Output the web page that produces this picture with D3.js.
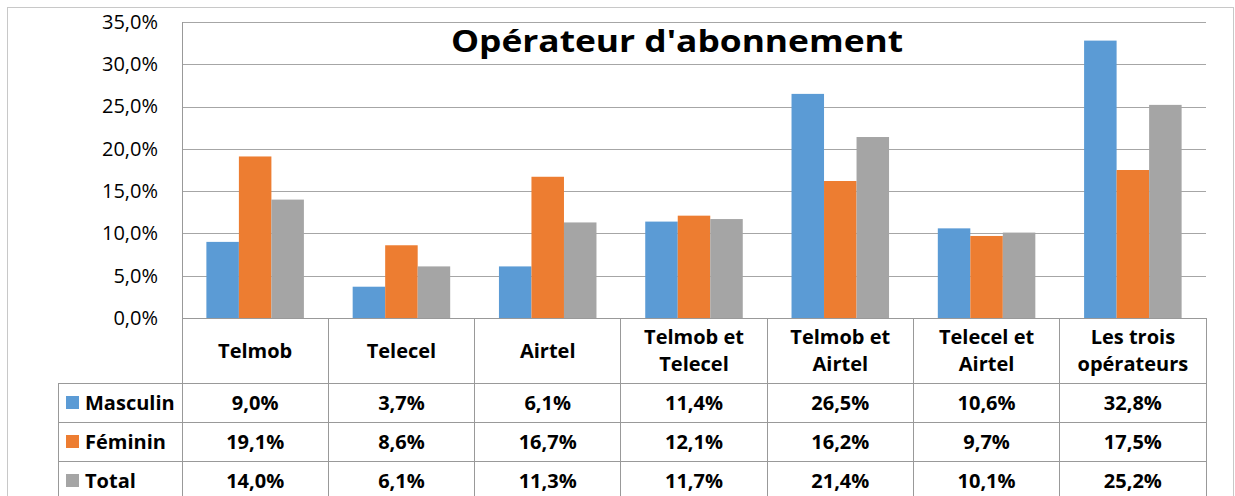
<!DOCTYPE html>
<html>
<head>
<meta charset="utf-8">
<script src="https://cdn.jsdelivr.net/npm/d3@7"></script>
<style>
  html, body { margin: 0; padding: 0; background: #fff; }
  svg { display: block; }
  text { font-family: "Open Sans", sans-serif; fill: #000; }
</style>
</head>
<body>
<svg id="chart" width="1235" height="496"></svg>
<script>
// ---- data ----
const title = "Opérateur d'abonnement";
const categories = ["Telmob", "Telecel", "Airtel", "Telmob et\nTelecel", "Telmob et\nAirtel", "Telecel et\nAirtel", "Les trois\nopérateurs"];
const seriesNames = ["Masculin", "Féminin", "Total"];
const masculin = [0.090, 0.037, 0.061, 0.114, 0.265, 0.106, 0.328];
const feminin  = [0.191, 0.086, 0.167, 0.121, 0.162, 0.097, 0.175];
const total    = [0.140, 0.061, 0.113, 0.117, 0.214, 0.101, 0.252];
const yTicks = [0, 0.05, 0.10, 0.15, 0.20, 0.25, 0.30, 0.35];
const colors = ["#5b9bd5", "#ed7d31", "#a5a5a5"];

const seriesValues = [masculin, feminin, total];

// ---- layout ----
const W = 1235, H = 496;
const plot = { left: 182, right: 1206, top: 22, bottom: 318 };
const tableLeft = 58;
const headerBottom = 383;
const rowH = 39;

const svg = d3.select("#chart");

// outer border
svg.append("rect")
  .attr("x", 7.5).attr("y", 7.5)
  .attr("width", 1226).attr("height", H)
  .attr("fill", "#fff").attr("stroke", "#c8c8c8").attr("stroke-width", 1);

const locale = d3.formatLocale({ decimal: ",", thousands: " ", grouping: [3], currency: ["", "€"] });
const pct = locale.format(".1%");

const x0 = d3.scaleBand().domain(categories).range([plot.left, plot.right]).paddingInner(0).paddingOuter(0);
const x1 = d3.scaleBand().domain(seriesNames).range([0, x0.bandwidth()]).paddingInner(0).paddingOuter(0.75);
const y = d3.scaleLinear().domain([0, 0.35]).range([plot.bottom, plot.top]);

// gridlines
const grid = svg.append("g")
  .attr("transform", `translate(${plot.left},0)`)
  .call(d3.axisLeft(y).tickValues(yTicks).tickSize(-(plot.right - plot.left)).tickFormat(""));
grid.select(".domain").remove();
grid.selectAll("line").attr("stroke", "#a6a6a6").attr("stroke-width", 1)
  .attr("shape-rendering", "crispEdges");

// y axis labels
const yAxis = svg.append("g")
  .attr("transform", `translate(${158},0)`)
  .call(d3.axisLeft(y).tickValues(yTicks).tickSize(0).tickPadding(0).tickFormat(pct));
yAxis.select(".domain").remove();
yAxis.selectAll("text")
  .style("font-family", "'Open Sans', sans-serif")
  .style("font-size", "20px").attr("fill", "#000");

// title
svg.append("text")
  .attr("transform", `translate(677,52) scale(1.14,1)`)
  .attr("text-anchor", "middle")
  .style("font-size", "31px").style("font-weight", "bold")
  .text(title);

// bars
const groups = svg.append("g").selectAll("g")
  .data(categories)
  .join("g")
  .attr("transform", d => `translate(${x0(d)},0)`);

groups.selectAll("rect")
  .data((d, i) => seriesNames.map((s, k) => ({ s, k, v: seriesValues[k][i] })))
  .join("rect")
  .attr("x", d => x1(d.s))
  .attr("width", x1.bandwidth())
  .attr("y", d => y(d.v))
  .attr("height", d => y(0) - y(d.v))
  .attr("fill", d => colors[d.k]);

// ---- data table ----
const lineColor = "#999";
const tl = svg.append("g").attr("shape-rendering", "crispEdges");

// axis line at 0 and left value axis line
tl.append("line").attr("x1", plot.left).attr("x2", plot.right)
  .attr("y1", y(0)).attr("y2", y(0)).attr("stroke", lineColor);
tl.append("line").attr("x1", plot.left).attr("x2", plot.left)
  .attr("y1", y(0.35)).attr("y2", H).attr("stroke", lineColor);

// vertical column separators
const colEdges = categories.map(c => x0(c) + x0.bandwidth());
tl.selectAll("line.col").data(colEdges).join("line").attr("class", "col")
  .attr("x1", d => d).attr("x2", d => d)
  .attr("y1", plot.bottom).attr("y2", H).attr("stroke", lineColor);

// left border of legend column
tl.append("line").attr("x1", tableLeft).attr("x2", tableLeft)
  .attr("y1", headerBottom).attr("y2", H).attr("stroke", lineColor);

// horizontal row lines
const rowTops = seriesNames.map((s, k) => headerBottom + k * rowH);
tl.selectAll("line.row").data(rowTops).join("line").attr("class", "row")
  .attr("x1", tableLeft).attr("x2", plot.right)
  .attr("y1", d => d).attr("y2", d => d).attr("stroke", lineColor);

// header labels
const hdr = svg.append("g").selectAll("text")
  .data(categories).join("text")
  .attr("text-anchor", "middle")
  .style("font-size", "20px").style("font-weight", "bold")
  .attr("x", d => x0(d) + x0.bandwidth() / 2)
  .attr("y", d => {
    const n = d.split("\n").length;
    return (plot.bottom + headerBottom) / 2 + 7 - (n - 1) * 13.5;
  });
hdr.each(function (d) {
  const t = d3.select(this);
  d.split("\n").forEach((line, i) => {
    t.append("tspan").attr("x", t.attr("x")).attr("dy", i === 0 ? 0 : 27).text(line);
  });
});

// rows
seriesNames.forEach((s, k) => {
  const cy = headerBottom + k * rowH + rowH / 2;
  svg.append("rect")
    .attr("x", 66).attr("y", cy - 6.5).attr("width", 13).attr("height", 13)
    .attr("fill", colors[k]);
  svg.append("text")
    .attr("x", 85).attr("y", cy + 7)
    .style("font-size", "20px").style("font-weight", "bold")
    .text(s);
  svg.append("g").selectAll("text")
    .data(categories).join("text")
    .attr("text-anchor", "middle")
    .attr("x", d => x0(d) + x0.bandwidth() / 2)
    .attr("y", cy + 7)
    .style("font-size", "20px").style("font-weight", "bold")
    .text((d, i) => pct(seriesValues[k][i]));
});
</script>
</body>
</html>
